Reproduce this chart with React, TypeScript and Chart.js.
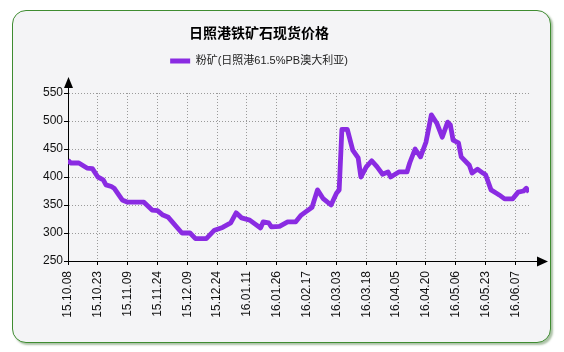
import React, { useEffect, useRef } from 'react';
import { Chart, registerables } from 'chart.js';

Chart.register(...registerables);

const chartTitle = '日照港铁矿石现货价格';
const seriesName = '粉矿(日照港61.5%PB澳大利亚)';

const tickLabels = [
  '15.10.08', '15.10.23', '15.11.09', '15.11.24', '15.12.09', '15.12.24',
  '16.01.11', '16.01.26', '16.02.17', '16.03.03', '16.03.18', '16.04.05',
  '16.04.20', '16.05.06', '16.05.23', '16.06.07',
];
const tickDays = [0, 11, 22, 33, 44, 55, 66, 77, 88, 99, 110, 121, 132, 143, 154, 165];
const lastDay = 170;

const tradingDay = [
  0, 1, 4, 7, 9, 11, 13, 14, 16, 17, 20, 22, 28, 31, 33, 35, 37, 42, 45, 47,
  51, 54, 57, 60, 62, 64, 67, 71, 72, 74, 75, 78, 81, 84, 86, 90, 92, 94, 97, 99,
  100, 101, 103, 105, 107, 108, 110, 112, 114, 116, 118, 119, 122, 125, 126, 128, 130, 132, 134, 136,
  138, 140, 141, 142, 144, 145, 148, 149, 151, 153, 154, 156, 158, 159, 161, 164, 166, 168, 169, 170,
];
const price = [
  430, 425, 425, 416, 415, 400, 395, 386, 383, 380, 359, 355, 355, 341, 340, 332, 328, 300, 300, 290,
  290, 305, 310, 318, 336, 327, 323, 309, 320, 318, 311, 312, 320, 320, 332, 346, 377, 362, 350, 371,
  377, 485, 485, 448, 434, 400, 418, 429, 418, 405, 409, 400, 409, 409, 425, 450, 436, 462, 511, 496,
  471, 498, 493, 466, 461, 436, 421, 407, 414, 407, 404, 377, 371, 368, 361, 361, 373, 375, 380, 373,
];

const yMin = 250;
const yMax = 550;
const yStep = 50;

const LINE_COLOR = '#8a2be2';

const arrowPlugin = {
  id: 'axisArrows',
  afterDraw(chart: any) {
    const { ctx, chartArea: a } = chart;
    ctx.save();
    ctx.strokeStyle = '#000';
    ctx.fillStyle = '#000';
    ctx.lineWidth = 1;
    const lx = Math.round(a.left) + 0.5;
    const by = Math.round(a.bottom) + 0.5;
    ctx.beginPath();
    ctx.moveTo(lx, a.top);
    ctx.lineTo(lx, a.top - 6);
    ctx.stroke();
    ctx.beginPath();
    ctx.moveTo(lx, a.top - 16);
    ctx.lineTo(lx - 4.5, a.top - 5);
    ctx.lineTo(lx + 4.5, a.top - 5);
    ctx.closePath();
    ctx.fill();
    ctx.beginPath();
    ctx.moveTo(a.right, by);
    ctx.lineTo(a.right + 9, by);
    ctx.stroke();
    ctx.beginPath();
    ctx.moveTo(a.right + 19, by);
    ctx.lineTo(a.right + 8, by - 5);
    ctx.lineTo(a.right + 8, by + 5);
    ctx.closePath();
    ctx.fill();
    ctx.restore();
  },
};

export default function App() {
  const canvasRef = useRef<HTMLCanvasElement | null>(null);

  useEffect(() => {
    if (!canvasRef.current) return;
    const font = '"Liberation Sans", Arial, "Noto Sans CJK SC", sans-serif';
    const chart = new Chart(canvasRef.current, {
      type: 'line',
      data: {
        datasets: [
          {
            label: seriesName,
            data: tradingDay.map((d, i) => ({ x: d, y: price[i] })),
            borderColor: LINE_COLOR,
            backgroundColor: LINE_COLOR,
            borderWidth: 4.8,
            pointRadius: 0,
            tension: 0,
            borderJoinStyle: 'round',
            borderCapStyle: 'butt',
            fill: false,
          },
        ],
      },
      options: {
        responsive: false,
        animation: false,
        devicePixelRatio: 1,
        layout: { padding: { left: -11, right: 35, top: 24, bottom: 0 } },
        font: { family: font },
        plugins: {
          title: {
            display: true,
            text: chartTitle,
            color: '#000',
            font: { family: '"Noto Sans CJK SC", sans-serif', size: 14, weight: 'bold' },
            padding: { top: 0, bottom: 4.7 },
          },
          legend: {
            display: true,
            position: 'top',
            labels: {
              usePointStyle: true,
              pointStyle: 'line',
              pointStyleWidth: 20,
              padding: 10,
              color: '#222',
              font: { family: font, size: 11 },
            },
          },
          subtitle: {
            display: true,
            text: '',
            weight: 500,
            padding: { top: 4.5, bottom: 0 },
            font: { size: 10 },
          },
          tooltip: { enabled: false },
        },
        scales: {
          x: {
            type: 'linear',
            min: 0,
            max: lastDay,
            afterBuildTicks: (scale: any) => {
              scale.ticks = tickDays.map((v) => ({ value: v }));
            },
            afterFit: (scale: any) => {
              scale.height = 91;
            },
            ticks: {
              autoSkip: false,
              minRotation: 90,
              maxRotation: 90,
              padding: 6,
              color: '#111',
              font: { family: font, size: 12 },
              callback: (v: any) => {
                const i = tickDays.indexOf(Number(v));
                return i >= 0 ? tickLabels[i] : '';
              },
            },
            grid: {
              color: '#9a9a9a',
              lineWidth: 1,
              tickLength: 4,
              tickColor: '#000',
              tickBorderDash: [],
            },
            border: { color: '#000', width: 1, dash: [1, 2] },
          },
          y: {
            min: yMin,
            max: yMax,
            afterFit: (scale: any) => {
              scale.width = 79;
            },
            ticks: {
              stepSize: yStep,
              padding: 1,
              color: '#111',
              font: { family: font, size: 12 },
            },
            grid: {
              color: '#9a9a9a',
              lineWidth: 1,
              tickLength: 4,
              tickColor: '#000',
              tickBorderDash: [],
            },
            border: { color: '#000', width: 1, dash: [1, 2] },
          },
        },
      },
      plugins: [arrowPlugin],
    } as any);
    return () => chart.destroy();
  }, []);

  return (
    <div
      style={{
        position: 'fixed',
        left: 0,
        top: 0,
        width: 564,
        height: 352,
        background: '#fff',
        overflow: 'hidden',
      }}
    >
      <div
        style={{
          position: 'absolute',
          left: 12,
          top: 10,
          width: 539,
          height: 333,
          boxSizing: 'border-box',
          border: '1px solid #3f8c31',
          borderRadius: 14,
          background: '#f4f4f6',
          boxShadow: '2px 2px 2px rgba(70,120,60,0.45)',
        }}
      />
      <canvas
        ref={canvasRef}
        width={564}
        height={352}
        style={{ position: 'absolute', left: 0, top: 0, width: 564, height: 352 }}
      />
    </div>
  );
}
